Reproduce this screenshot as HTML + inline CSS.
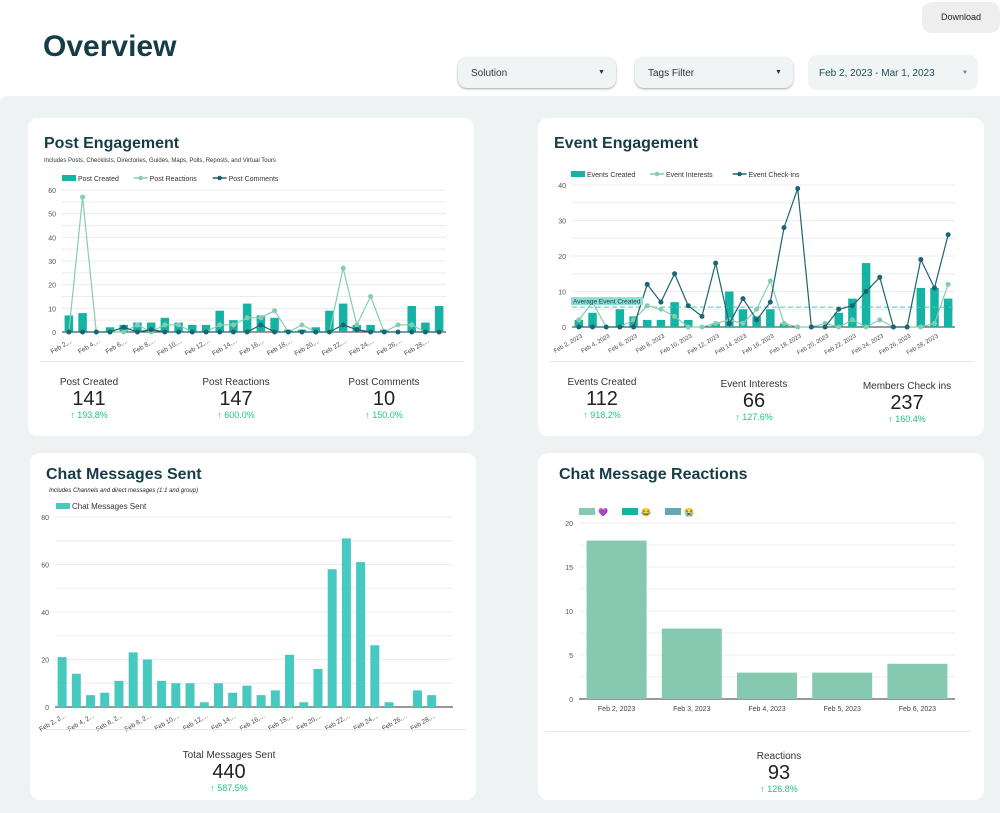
<!DOCTYPE html>
<html><head><meta charset="utf-8">
<style>
body{margin:0;width:1000px;height:813px;background:#fff;font-family:"Liberation Sans",sans-serif;position:relative;overflow:hidden;color:#1d3f47}
.abs{position:absolute}
.bg{left:0;top:96px;width:1000px;height:717px;background:#eef2f2;border-top-left-radius:6px}
.card{background:#fff;border-radius:10px}
.dd{background:#f0f4f5;border-radius:9px;font-size:10px;color:#333;box-shadow:0 1px 2px rgba(0,0,0,.35)}
.dd span{position:absolute;top:11px}
.title{font-weight:bold;font-size:16px;color:#163d47}
.lab{font-size:10px;color:#333;text-align:center;width:140px}
.num{font-size:20px;color:#222;text-align:center;width:140px}
.pct{font-size:9px;color:#1ec28b;text-align:center;width:140px}
svg text{font-family:"Liberation Sans",sans-serif}
</style></head><body>
<div class="abs" style="left:43px;top:30px;font-size:30px;font-weight:bold;color:#163d47">Overview</div>
<div class="abs" style="left:922px;top:2px;width:78px;height:31px;background:#eeeeee;border-radius:10px;font-size:9px;line-height:31px;text-align:center;color:#222">Download</div>
<div class="abs dd" style="left:458px;top:57px;width:158px;height:31px"><span style="left:13px">Solution</span><span style="left:140px;font-size:7px;top:12px">▼</span></div>
<div class="abs dd" style="left:635px;top:57px;width:158px;height:31px"><span style="left:13px">Tags Filter</span><span style="left:140px;font-size:7px;top:12px">▼</span></div>
<div class="abs dd" style="left:808px;top:55px;width:170px;height:35px;box-shadow:none;color:#1d4f57"><span style="left:11px;top:13px">Feb 2, 2023 - Mar 1, 2023</span><span style="left:154px;font-size:6px;top:15px;color:#777">▼</span></div>
<div class="abs bg"></div>

<div class="abs card" style="left:28px;top:118px;width:446px;height:318px"></div>
<div class="abs card" style="left:538px;top:118px;width:446px;height:318px"></div>
<div class="abs card" style="left:30px;top:453px;width:446px;height:347px"></div>
<div class="abs card" style="left:538px;top:453px;width:446px;height:347px"></div>

<div class="abs title" style="left:44px;top:135px">Post Engagement</div>
<div class="abs" style="left:44px;top:158px;font-size:6px;color:#333">Includes Posts, Checklists, Directories, Guides, Maps, Polls, Reposts, and Virtual Tours</div>
<div class="abs title" style="left:554px;top:135px">Event Engagement</div>
<div class="abs title" style="left:46px;top:466px">Chat Messages Sent</div>
<div class="abs" style="left:49px;top:488px;font-size:6px;color:#222;font-style:italic">Includes Channels and direct messages (1:1 and group)</div>
<div class="abs title" style="left:559px;top:466px">Chat Message Reactions</div>

<svg class="abs" style="left:0;top:0" width="1000" height="813" id="s"></svg>

<div class="abs" style="left:40px;top:361px;width:424px;height:1px;background:#e6e6e6"></div>
<div class="abs lab" style="left:19px;top:377px">Post Created</div>
<div class="abs num" style="left:19px;top:388px">141</div>
<div class="abs pct" style="left:19px;top:410px">↑ 193.8%</div>
<div class="abs lab" style="left:166px;top:377px">Post Reactions</div>
<div class="abs num" style="left:166px;top:388px">147</div>
<div class="abs pct" style="left:166px;top:410px">↑ 600.0%</div>
<div class="abs lab" style="left:314px;top:377px">Post Comments</div>
<div class="abs num" style="left:314px;top:388px">10</div>
<div class="abs pct" style="left:314px;top:410px">↑ 150.0%</div>

<div class="abs" style="left:550px;top:361px;width:424px;height:1px;background:#e6e6e6"></div>
<div class="abs lab" style="left:532px;top:377px">Events Created</div>
<div class="abs num" style="left:532px;top:388px">112</div>
<div class="abs pct" style="left:532px;top:410px">↑ 918.2%</div>
<div class="abs lab" style="left:684px;top:379px">Event Interests</div>
<div class="abs num" style="left:684px;top:390px">66</div>
<div class="abs pct" style="left:684px;top:412px">↑ 127.6%</div>
<div class="abs lab" style="left:837px;top:381px">Members Check ins</div>
<div class="abs num" style="left:837px;top:392px">237</div>
<div class="abs pct" style="left:837px;top:414px">↑ 160.4%</div>

<div class="abs" style="left:42px;top:729px;width:424px;height:1px;background:#e6e6e6"></div>
<div class="abs lab" style="left:159px;top:750px">Total Messages Sent</div>
<div class="abs num" style="left:159px;top:761px">440</div>
<div class="abs pct" style="left:159px;top:783px">↑ 587.5%</div>

<div class="abs" style="left:545px;top:731px;width:426px;height:1px;background:#e6e6e6"></div>
<div class="abs lab" style="left:709px;top:751px">Reactions</div>
<div class="abs num" style="left:709px;top:762px">93</div>
<div class="abs pct" style="left:709px;top:784px">↑ 126.8%</div>

<script>
const postCreated=[7,8,0,2,3,4,4,6,4,3,3,9,5,12,7,6,1,1,2,9,12,3,3,1,0,11,4,11];
const postReactions=[0,57,0,0,0,3,0,3,3,0,0,3,3,6,6,9,0,3,0,0,27,3,15,0,3,3,0,0];
const postComments=[0,0,0,0,2,0,1,0,0,0,0,0,0,0,3,0,0,0,0,0,3,1,0,0,0,0,0,0];
const postTicks=[0,10,20,30,40,50,60];
const postLabels=["Feb 2,...","Feb 4,...","Feb 6,...","Feb 8,...","Feb 10,...","Feb 12,...","Feb 14,...","Feb 16,...","Feb 18,...","Feb 20,...","Feb 22,...","Feb 24,...","Feb 26,...","Feb 28,..."];

const eventsCreated=[2,4,0,5,3,2,2,7,2,0,1,10,5,3,5,1,0,0,0,4,8,18,0,0,0,11,11,8];
const eventInterests=[2,7,0,0,2,6,5,3,0,0,1,2,1,5,13,1,0,0,1,0,2,0,2,0,0,0,1,12];
const eventCheckins=[0,0,0,0,0,12,7,15,6,3,18,1,8,2,7,28,39,0,0,5,6,10,14,0,0,19,11,26];
const eventAverage=[5.6];
const eventTicks=[0,10,20,30,40];
const eventLabels=["Feb 2, 2023","Feb 4, 2023","Feb 6, 2023","Feb 8, 2023","Feb 10, 2023","Feb 12, 2023","Feb 14, 2023","Feb 16, 2023","Feb 18, 2023","Feb 20, 2023","Feb 22, 2023","Feb 24, 2023","Feb 26, 2023","Feb 28, 2023"];

const chatMessages=[21,14,5,6,11,23,20,11,10,10,2,10,6,9,5,7,22,2,16,58,71,61,26,2,0,7,5,0];
const chatTicks=[0,20,40,60,80];
const chatLabels=["Feb 2, 2...","Feb 4, 2...","Feb 6, 2...","Feb 8, 2...","Feb 10,...","Feb 12,...","Feb 14,...","Feb 16,...","Feb 18,...","Feb 20,...","Feb 22,...","Feb 24,...","Feb 26,...","Feb 28,..."];

const reactionDates=["Feb 2, 2023","Feb 3, 2023","Feb 4, 2023","Feb 5, 2023","Feb 6, 2023"];
const reactionValues=[18,8,3,3,4];
const reactionTicks=[0,5,10,15,20];

const S=document.getElementById('s');
const NS='http://www.w3.org/2000/svg';
function el(t,a,txt){const e=document.createElementNS(NS,t);for(const k in a)e.setAttribute(k,a[k]);if(txt!==undefined)e.textContent=txt;S.appendChild(e);return e;}

function axes(x0,x1,y0,yTop,max,ticks,minor,fs){
  const y=v=>y0-(v/max)*(y0-yTop);
  for(let v=minor;v<=max;v+=minor){const g=el('line',{x1:x0,x2:x1,y1:y(v),y2:y(v),stroke:'#ececec','stroke-width':1});
  }
  ticks.forEach(t=>{const e=el('text',{x:x0-6,y:y(t)+3,'font-size':fs||7,fill:'#555','text-anchor':'end'},t);
  });
  const b=el('line',{x1:x0,x2:x1,y1:y0,y2:y0,stroke:'#333','stroke-width':1});
  
  return y;
}
function xlabels(labels,xf,y0,step,fs){
  labels.forEach((l,i)=>{const x=xf(i*step)+4;const t=el('text',{x:x,y:y0+10,'font-size':fs||6.5,fill:'#444','text-anchor':'end',transform:`rotate(-30 ${x} ${y0+10})`},l);
  });
}
function bars(vals,xf,y,y0,w,col,name){
  vals.forEach((v,i)=>{if(v<=0)return;const r=el('rect',{x:xf(i)-w/2,y:y(v),width:w,height:y0-y(v),fill:col});
  });
}
function line(vals,xf,y,col,name){
  const p=el('polyline',{points:vals.map((v,i)=>xf(i)+','+y(v)).join(' '),fill:'none',stroke:col,'stroke-width':1.2});
  
  vals.forEach((v,i)=>{const c=el('circle',{cx:xf(i),cy:y(v),r:2.5,fill:col});
  });
}
function legend(items,x,yy,fs){
  items.forEach(it=>{
    if(it.t==='bar'){const r=el('rect',{x:x,y:yy-4,width:14,height:6,fill:it.c});}
    else{const l=el('line',{x1:x,x2:x+14,y1:yy-1,y2:yy-1,stroke:it.c,'stroke-width':1.5});
      el('circle',{cx:x+7,cy:yy-1,r:2.3,fill:it.c});}
    const t=el('text',{x:x+16,y:yy+2,'font-size':fs||7,fill:'#333'},it.l);
    
    x+=16+it.l.length*(fs||7)*0.52+12;
  });
}
const C1='#14b3a3',C2='#86cdb0',C3='#1c6470';

(function(){
  const x0=62,x1=446,y0=332,yT=190,n=28,st=(x1-x0)/n;
  const xf=i=>x0+st*(i+0.5);
  const y=axes(x0,x1,y0,yT,60,postTicks,5);
  bars(postCreated,xf,y,y0,8.5,C1,'post-created-bar');
  line(postReactions,xf,y,C2,'post-reactions');
  line(postComments,xf,y,C3,'post-comments');
  xlabels(postLabels,xf,y0,2);
  legend([{t:'bar',c:C1,l:'Post Created'},{t:'line',c:C2,l:'Post Reactions'},{t:'line',c:C3,l:'Post Comments'}],62,179);
})();
(function(){
  const x0=572,x1=955,y0=327,yT=185,n=28,st=(x1-x0)/n;
  const xf=i=>x0+st*(i+0.5);
  const y=axes(x0,x1,y0,yT,40,eventTicks,5);
  bars(eventsCreated,xf,y,y0,8.5,C1,'events-created-bar');
  const a=el('line',{x1:x0,x2:x1,y1:y(eventAverage[0]),y2:y(eventAverage[0]),stroke:'#3cc8c0','stroke-width':1,'stroke-dasharray':'5,3'});
  
  line(eventInterests,xf,y,C2,'event-interests');
  line(eventCheckins,xf,y,C3,'event-checkins');
  el('rect',{x:x0-1,y:y(eventAverage[0])-10,width:72,height:8,fill:'#8fdcd4'});
  const t=el('text',{x:x0+1,y:y(eventAverage[0])-3.5,'font-size':6.5,fill:'#1d3f47'},'Average Event Created');
  
  xlabels(eventLabels,xf,y0,2,6);
  legend([{t:'bar',c:C1,l:'Events Created'},{t:'line',c:C2,l:'Event Interests'},{t:'line',c:C3,l:'Event Check-ins'}],571,175);
})();
(function(){
  const x0=55,x1=453,y0=707,yT=517,n=28,st=(x1-x0)/n;
  const xf=i=>x0+st*(i+0.5);
  const y=axes(x0,x1,y0,yT,80,chatTicks,10);
  bars(chatMessages,xf,y,y0,9,'#48c9c0','chat-messages-bar');
  xlabels(chatLabels,xf,y0,2,6.5);
  legend([{t:'bar',c:'#48c9c0',l:'Chat Messages Sent'}],56,507,8);
})();
(function(){
  const x0=579,x1=955,y0=699,yT=523,n=5,st=(x1-x0)/n;
  const xf=i=>x0+st*(i+0.5);
  const y=axes(x0,x1,y0,yT,20,reactionTicks,2.5);
  bars(reactionValues,xf,y,y0,60,'#84c9b0','reaction-bar');
  reactionDates.forEach((d,i)=>{const t=el('text',{x:xf(i),y:y0+12,'font-size':7,fill:'#444','text-anchor':'middle'},d);
  });
  [['#84c9b0','💜',579],['#14b3a3','😂',622],['#64a8b0','😭',665]].forEach(l=>{
    const r=el('rect',{x:l[2],y:508,width:16,height:7,fill:l[0]});
    const t=el('text',{x:l[2]+19,y:515,'font-size':8},l[1]);});
})();
</script>
</body></html>
